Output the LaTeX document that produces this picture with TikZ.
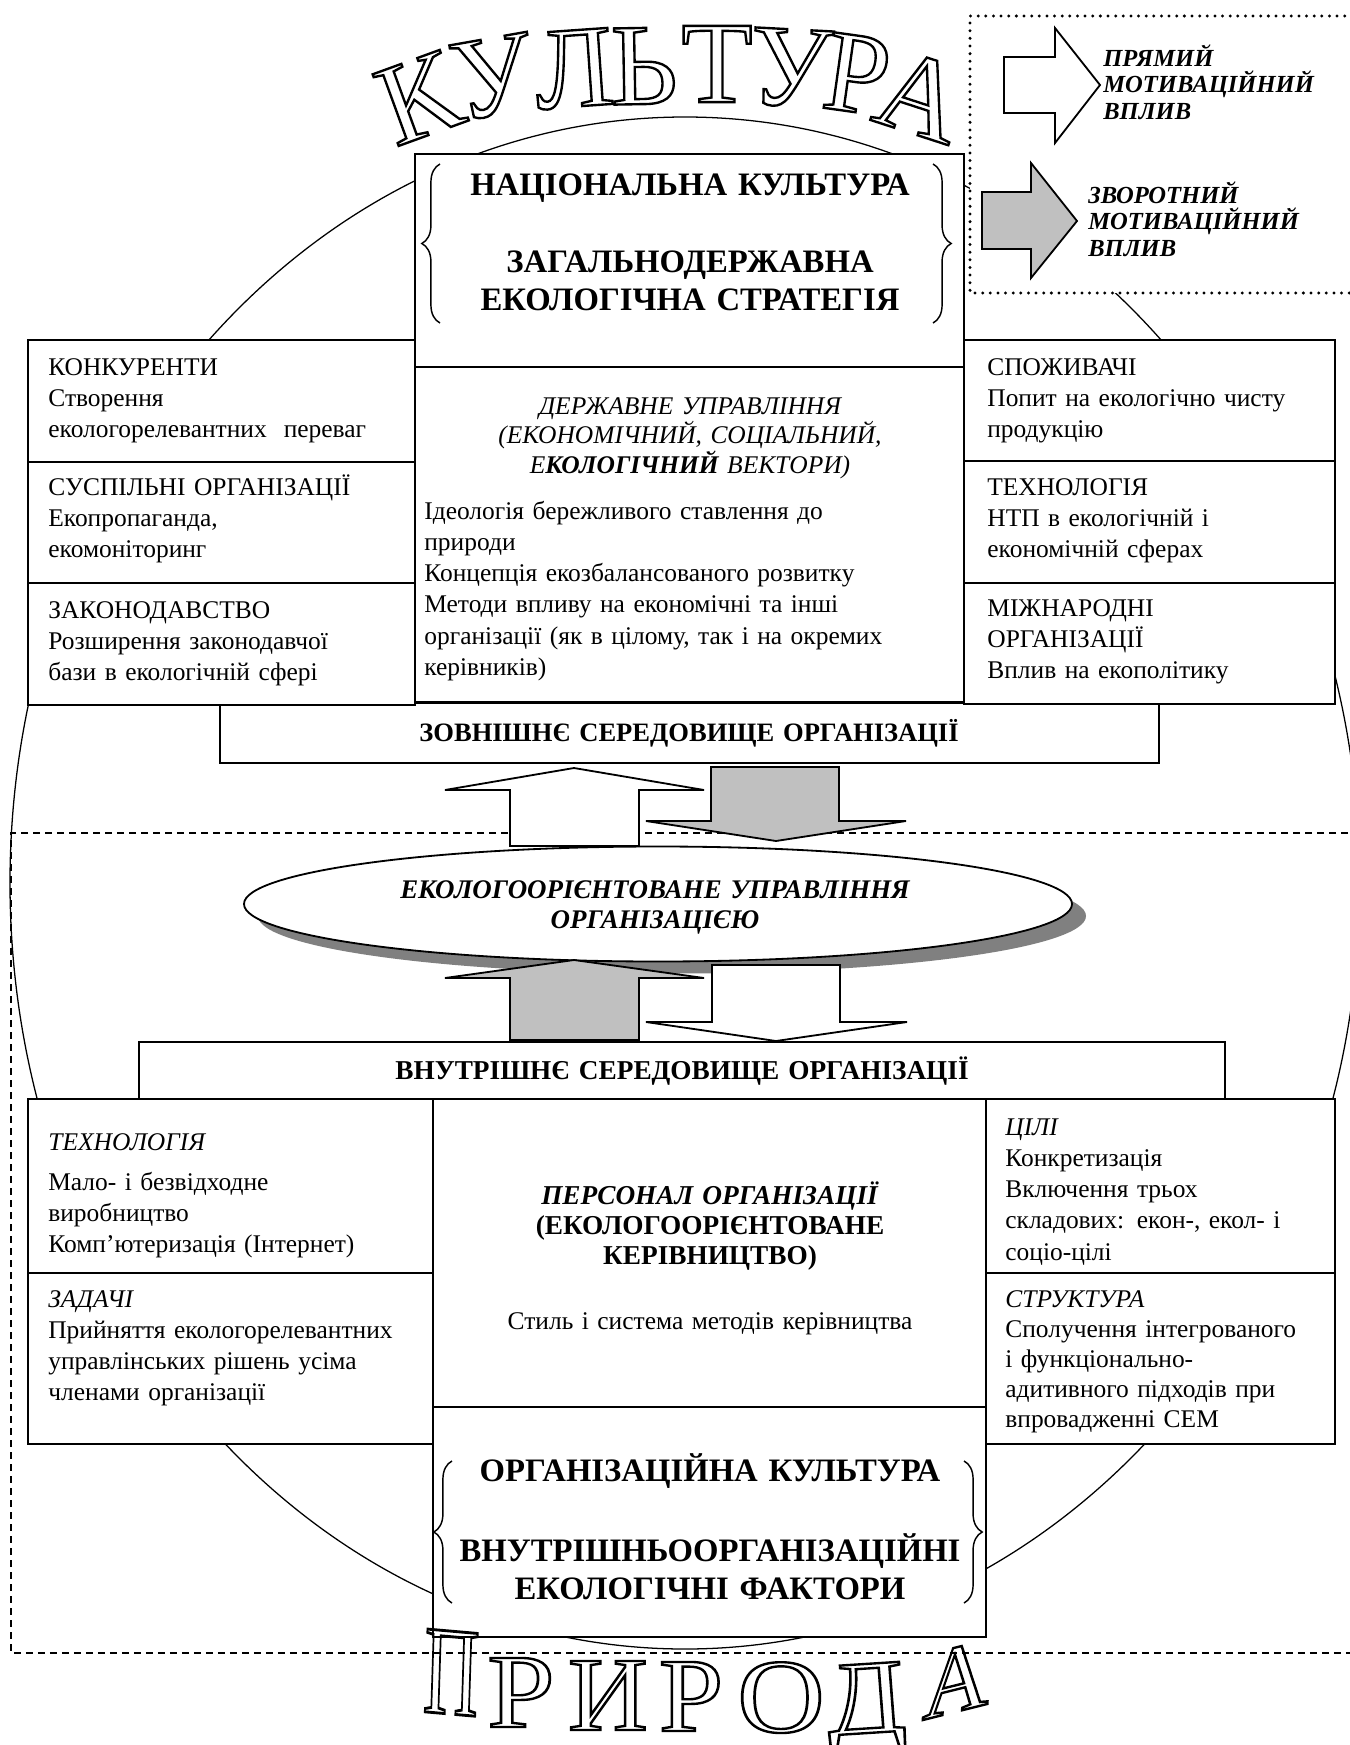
\documentclass[tikz,border=0pt]{standalone}
\usepackage{fontspec}
\setmainfont{Liberation Serif}
\usetikzlibrary{calc,decorations.pathreplacing,shapes.geometric,shadows}

\definecolor{arrowgrey}{RGB}{192,192,192}
\definecolor{shadegrey}{RGB}{128,128,128}

% stroked (hollow) glyphs for the arched headings
\newcommand\hollow[1]{\special{pdf:literal direct 1 Tr 1.3 w}#1\special{pdf:literal direct 0 Tr}}
% rectangular panel given by its corners (pixel units)
\newcommand\panelbox[5]{%
  \node[panel, minimum width={(#4-#2)*0.55pt}, minimum height={(#5-#3)*0.55pt}]
    (#1) at ({(#2+#4)/2},{(#3+#5)/2}) {};}

\begin{document}
\begin{tikzpicture}[x=0.55pt, y=-0.55pt,
  panel/.style={draw, line width=1pt, fill=white, inner sep=0pt, outer sep=0pt},
  blockarrow/.style={draw, line width=1pt, line join=miter},
  body/.style={inner sep=0pt, text width=380pt, align=left,
               font=\fontsize{14}{17.2}\selectfont},
  bodyc/.style={body, align=center},
  heading/.style={inner sep=0pt, text width=500pt, align=center,
               font=\fontsize{18}{21.3}\selectfont\bfseries},
  legendtext/.style={inner sep=0pt, text width=140pt, align=left,
               font=\fontsize{13.5}{14.6}\selectfont\bfseries\itshape},
  bracket/.style={decorate, decoration={brace, amplitude=10pt}, line width=0.8pt},
  arch/.style={inner sep=0pt, font=\fontsize{64}{64}\selectfont},
  archlow/.style={inner sep=0pt, anchor=base, font=\fontsize{58}{58}\selectfont},
  zone/.style={dash pattern=on 4pt off 2.6pt, line width=0.8pt},
  dotted frame/.style={dash pattern=on 0pt off 4.2pt, line cap=round, line width=1.8pt}
]
\useasboundingbox (0,0) rectangle (1350,1745);
\fill[white] (0,0) rectangle (1350,1745);

% large circle enclosing the whole scheme
\draw[line width=0.7pt] (685,883) ellipse [x radius=371.25pt, y radius=421.3pt];

% boundary of the organisation (dashed)
\draw[zone] (1360,833) -- (11,833) -- (11,1653) -- (1360,1653);

% ---------- external environment ----------
\panelbox{zovn}{220}{703}{1159}{763}
\draw[line width=1.4pt] (zovn.south west) -- (zovn.south east);
\panelbox{natc}{415}{154}{964}{367}
\panelbox{derzh}{415}{367}{964}{702}
\panelbox{kon}{28}{340}{415}{462}
\panelbox{susp}{28}{462}{415}{583}
\panelbox{zak}{28}{583}{415}{705}
\panelbox{spoz}{964}{340}{1335}{461}
\panelbox{tech}{964}{461}{1335}{583}
\panelbox{mizh}{964}{583}{1335}{704}

% ---------- management ellipse ----------
\node[ellipse, draw, line width=1pt, fill=white, inner sep=0pt,
      minimum width=828*0.55pt, minimum height=115*0.55pt,
      drop shadow={shadow xshift=7.7pt, shadow yshift=-6.6pt, fill=shadegrey, opacity=1}]
      (mgmt) at (658,904) {};

% block arrows between environment, management and inner environment
\draw[blockarrow, fill=white] (510,846) -- (510,790) -- (445,790) -- (574,768)
      -- (704,790) -- (639,790) -- (639,846) -- cycle;
\draw[blockarrow, fill=arrowgrey] (711,767) -- (839,767) -- (839,821) -- (906,821)
      -- (776,841) -- (646,821) -- (711,821) -- cycle;
\draw[blockarrow, fill=arrowgrey] (510,1040) -- (510,978) -- (445,978) -- (574,960)
      -- (704,978) -- (639,978) -- (639,1040) -- cycle;
\draw[blockarrow, fill=white] (712,965) -- (840,965) -- (840,1022) -- (907,1022)
      -- (776,1041) -- (646,1022) -- (712,1022) -- cycle;

% ---------- internal environment ----------
\panelbox{vnutr}{139}{1042}{1225}{1099}
\panelbox{tehn}{28}{1099}{433}{1273}
\panelbox{zad}{28}{1273}{433}{1444}
\panelbox{pers}{433}{1099}{986}{1407}
\panelbox{orgk}{433}{1407}{986}{1637}
\panelbox{cili}{986}{1099}{1335}{1273}
\panelbox{strukt}{986}{1273}{1335}{1444}

% ---------- legend ----------
\fill[white] (970,16) rectangle (1360,293);
\draw[dotted frame] (1360,16) -- (970,16) -- (970,293) -- (1360,293);
\draw[blockarrow, fill=white] (1004,57) -- (1055,57) -- (1055,28) -- (1100,85)
      -- (1055,143) -- (1055,113) -- (1004,113) -- cycle;
\draw[blockarrow, fill=arrowgrey] (982,192) -- (1031,192) -- (1031,163) -- (1077,221)
      -- (1031,278) -- (1031,249) -- (982,249) -- cycle;
\node[legendtext, anchor=base west] (lgDirect) at (1103,66) {ПРЯМИЙ\\МОТИВАЦІЙНИЙ\\ВПЛИВ};
\node[legendtext, anchor=base west] (lgBack) at (1088,203) {ЗВОРОТНИЙ\\МОТИВАЦІЙНИЙ\\ВПЛИВ};

% ---------- braces ----------
\draw[bracket] (440,323) -- (440,164);
\draw[bracket] (933,164) -- (933,323);
\draw[bracket] (452,1603) -- (452,1461);
\draw[bracket] (964,1461) -- (964,1603);

% ---------- texts ----------
\node[heading, anchor=base] (tNat) at (690,195) {НАЦІОНАЛЬНА КУЛЬТУРА};
\node[heading, anchor=base] (tStrat) at (690,272) {ЗАГАЛЬНОДЕРЖАВНА\\ЕКОЛОГІЧНА СТРАТЕГІЯ};

\node[bodyc, anchor=base, font=\fontsize{14}{16.3}\selectfont\itshape] (tGov) at (690,414)
  {ДЕРЖАВНЕ УПРАВЛІННЯ\\(ЕКОНОМІЧНИЙ, СОЦІАЛЬНИЙ,\\Е\textbf{КОЛОГІЧНИЙ} ВЕКТОРИ)};
\node[body, anchor=base west] (tGovList) at (424,519)
  {Ідеологія бережливого ставлення до\\природи\\Концепція екозбалансованого розвитку\\Методи впливу на економічні та інші\\організації (як в цілому, так і на окремих\\керівників)};

\node[body, anchor=base west] (tKon) at (48,375) {КОНКУРЕНТИ\\Створення\\екологорелевантних~ переваг};
\node[body, anchor=base west] (tSusp) at (48,495) {СУСПІЛЬНІ ОРГАНІЗАЦІЇ\\Екопропаганда,\\екомоніторинг};
\node[body, anchor=base west] (tZak) at (48,618) {ЗАКОНОДАВСТВО\\Розширення законодавчої\\бази в екологічній сфері};
\node[body, anchor=base west] (tSpoz) at (987,375) {СПОЖИВАЧІ\\Попит на екологічно чисту\\продукцію};
\node[body, anchor=base west] (tTech) at (987,495) {ТЕХНОЛОГІЯ\\НТП в екологічній і\\економічній сферах};
\node[body, anchor=base west] (tMizh) at (987,616) {МІЖНАРОДНІ\\ОРГАНІЗАЦІЇ\\Вплив на екополітику};

\node[bodyc, anchor=base, font=\fontsize{14.6}{17}\selectfont\bfseries] (tZovn) at (689,741) {ЗОВНІШНЄ СЕРЕДОВИЩЕ ОРГАНІЗАЦІЇ};
\node[bodyc, anchor=base, font=\fontsize{14.8}{16.5}\selectfont\bfseries\itshape] (tMgmt) at (655,898)
  {ЕКОЛОГООРІЄНТОВАНЕ УПРАВЛІННЯ\\ОРГАНІЗАЦІЄЮ};
\node[bodyc, anchor=base, font=\fontsize{15}{17}\selectfont\bfseries] (tVnutr) at (682,1079) {ВНУТРІШНЄ СЕРЕДОВИЩЕ ОРГАНІЗАЦІЇ};

\node[body, anchor=base west] (tTehn) at (48,1150)
  {\textit{ТЕХНОЛОГІЯ}\\[5pt]Мало- і безвідходне\\виробництво\\Комп’ютеризація (Інтернет)};
\node[body, anchor=base west] (tZad) at (48,1307)
  {\textit{ЗАДАЧІ}\\Прийняття екологорелевантних\\управлінських рішень усіма\\членами організації};
\node[body, anchor=base west] (tCili) at (1005,1135)
  {\textit{ЦІЛІ}\\Конкретизація\\Включення трьох\\складових: екон-, екол- і\\соціо-цілі};
\node[body, anchor=base west, font=\fontsize{14}{16.5}\selectfont] (tStrukt) at (1005,1307)
  {\textit{СТРУКТУРА}\\Сполучення інтегрованого\\і функціонально-\\адитивного підходів при\\впровадженні СЕМ};

\node[bodyc, anchor=base, font=\fontsize{15}{16.5}\selectfont\bfseries] (tPers) at (710,1204)
  {\textit{ПЕРСОНАЛ ОРГАНІЗАЦІЇ}\\(ЕКОЛОГООРІЄНТОВАНЕ\\КЕРІВНИЦТВО)};
\node[bodyc, anchor=base] (tStyle) at (710,1329) {Стиль і система методів керівництва};

\node[heading, anchor=base] (tOrgk) at (710,1481) {ОРГАНІЗАЦІЙНА КУЛЬТУРА};
\node[heading, anchor=base] (tFact) at (710,1561) {ВНУТРІШНЬООРГАНІЗАЦІЙНІ\\ЕКОЛОГІЧНІ ФАКТОРИ};

% ---------- arched hollow headings ----------
\node[arch, rotate=20] (c1) at (419,98) {\hollow{К}};
\node[arch, rotate=10] (c2) at (493,77) {\hollow{У}};
\node[arch, rotate=4]  (c3) at (574,69) {\hollow{Л}};
\node[arch, rotate=1]  (c4) at (644,66) {\hollow{Ь}};
\node[arch]            (c5) at (717,64) {\hollow{Т}};
\node[arch, rotate=-3] (c6) at (791,68) {\hollow{У}};
\node[arch, rotate=-8] (c7) at (857,74) {\hollow{Р}};
\node[arch, rotate=-18] (c8) at (921,96) {\hollow{А}};

\node[archlow, xscale=0.72, yscale=1.2, rotate=-3] (n1) at (450,1714) {\hollow{П}};
\node[archlow, xscale=1.15] (n2) at (521,1727) {\hollow{Р}};
\node[archlow, xscale=1.05] (n3) at (608,1730) {\hollow{И}};
\node[archlow, xscale=1.1] (n4) at (691,1731) {\hollow{Р}};
\node[archlow, xscale=1.15] (n5) at (781,1732) {\hollow{О}};
\node[archlow, xscale=1.1, rotate=4] (n6) at (868,1733) {\hollow{Д}};
\node[archlow, font=\fontsize{52}{52}\selectfont, rotate=14, xslant=0.3] (n7) at (955,1712) {\hollow{А}};
\end{tikzpicture}
\end{document}
